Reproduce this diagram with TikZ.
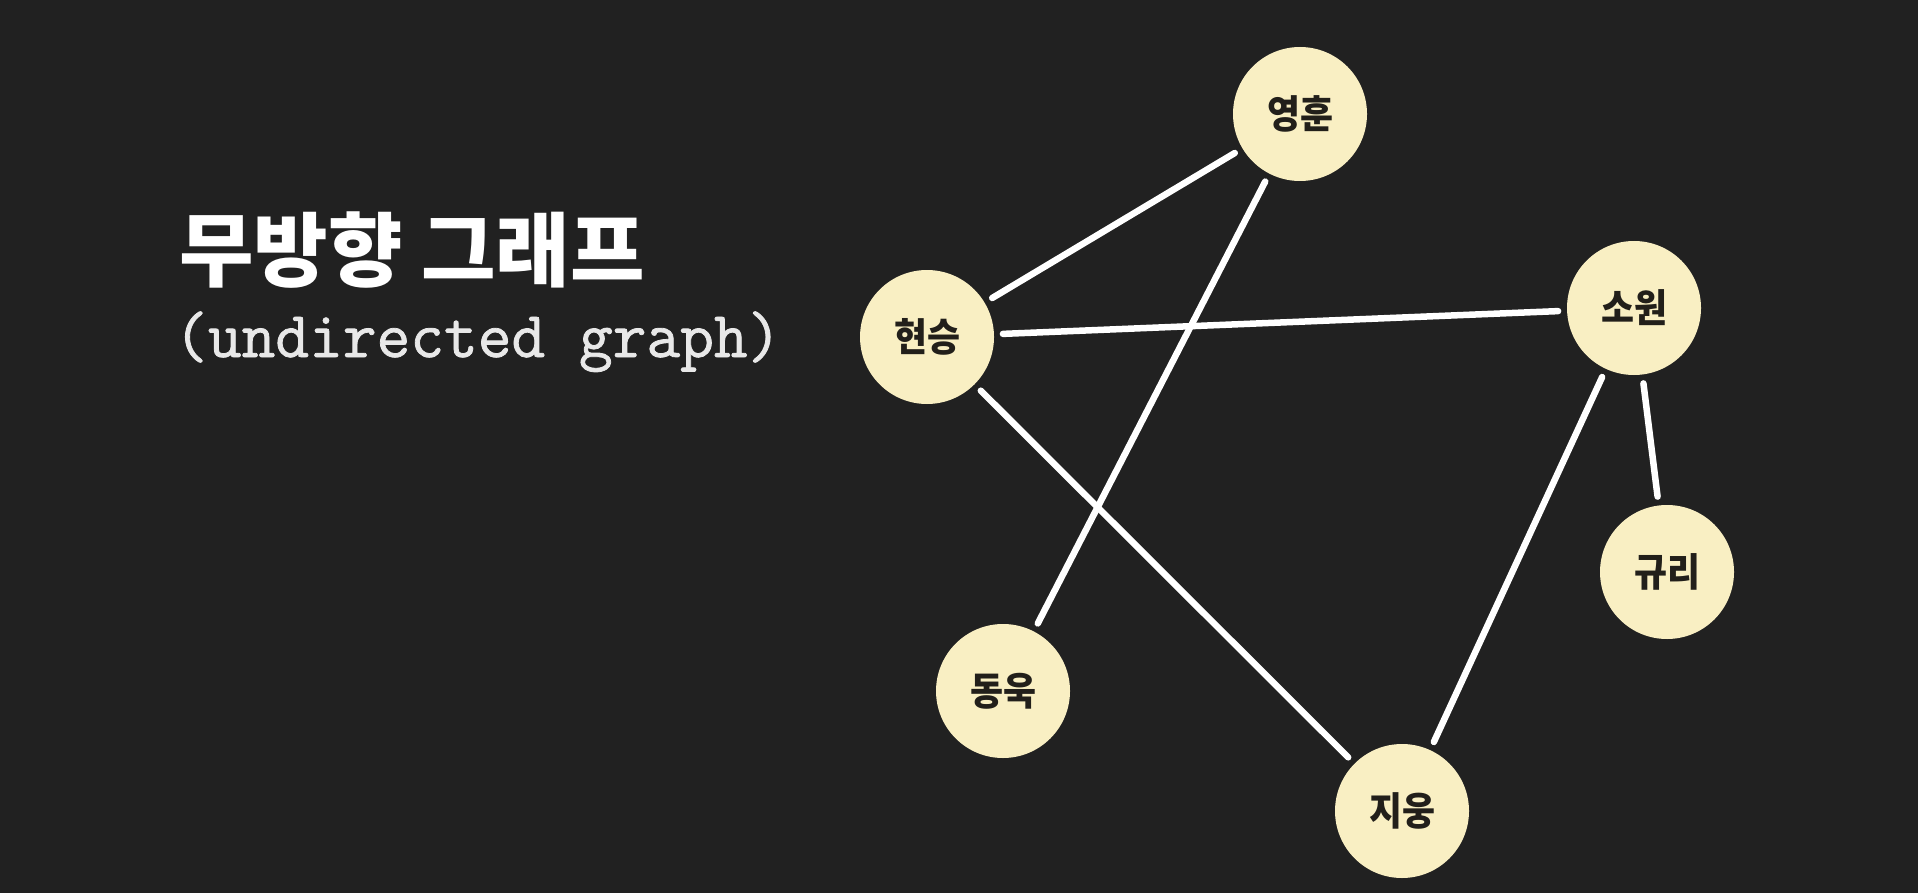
\documentclass[tikz,border=0pt]{standalone}
\usepackage{fontspec}
\usepackage{tikz}
\usetikzlibrary{positioning}
\newfontfamily\koreanFont{Noto Sans CJK KR}
\newfontfamily\labelFont[FakeStretch=0.92]{Noto Sans CJK KR}
\newfontfamily\monoFont[FakeBold=1.2]{Latin Modern Mono}
\definecolor{backColor}{RGB}{33,33,33}
\definecolor{vertexColor}{RGB}{249,239,195}
\definecolor{labelColor}{RGB}{34,31,26}
\definecolor{subtitleColor}{RGB}{232,232,232}
\tikzstyle{canvas} = [x = 1pt, y = -1pt]
\tikzstyle{vertexStyle} = [circle, fill=vertexColor, minimum size=134pt, inner sep=0pt, outer sep=9pt, text=labelColor, font=\labelFont\bfseries\fontsize{39}{41}\selectfont]
\tikzstyle{edgeLine} = [color=white, line width=6.5pt, line cap=round]
\tikzstyle{titleText} = [anchor=base west, inner sep=0pt, text=white, font=\koreanFont\bfseries\fontsize{81}{90}\selectfont]
\tikzstyle{subtitleText} = [anchor=base west, inner sep=0pt, text=subtitleColor, font=\monoFont\fontsize{65.5}{72}\selectfont]

\begin{document}
\begin{tikzpicture}[canvas]
      \fill [backColor] (0, 0) rectangle (1918, 893);
      \useasboundingbox (0, 0) rectangle (1918, 893);

      \node [titleText] (title) at (179, 280) {무방향 그래프};
      \node [subtitleText] (subtitle) at (174, 357) {(undirected graph)};

      \node [vertexStyle] (youngHoon) at (1300, 114) {영훈};
      \node [vertexStyle] (hyunSeung) at (927, 337) {현승};
      \node [vertexStyle] (soWon) at (1634, 308) {소원};
      \node [vertexStyle] (gyuRi) at (1667, 572) {규리};
      \node [vertexStyle] (dongWook) at (1003, 691) {동욱};
      \node [vertexStyle] (jiWoong) at (1402, 811) {지웅};

      \draw [edgeLine] (hyunSeung) -- (youngHoon);
      \draw [edgeLine] (youngHoon) -- (dongWook);
      \draw [edgeLine] (hyunSeung) -- (soWon);
      \draw [edgeLine] (hyunSeung) -- (jiWoong);
      \draw [edgeLine] (soWon) -- (jiWoong);
      \draw [edgeLine] (soWon) -- (gyuRi);
    \end{tikzpicture}
\end{document}
